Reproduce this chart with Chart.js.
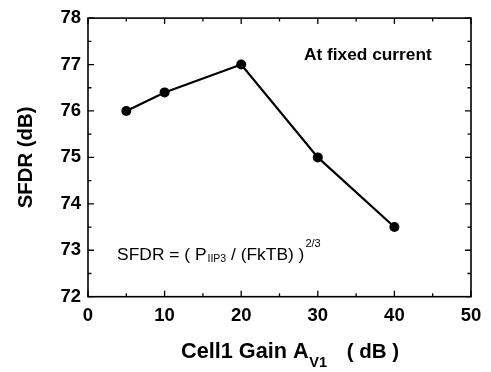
<!DOCTYPE html>
<html>
<head>
<meta charset="utf-8">
<script src="https://cdn.jsdelivr.net/npm/chart.js@4.4.1/dist/chart.umd.min.js"></script>
<style>
html,body{margin:0;padding:0;background:#fff;}
#wrap{width:491px;height:372px;position:relative;}
</style>
</head>
<body>
<div id="wrap"><canvas id="c" width="491" height="372"></canvas></div>
<script>
const gainDb = [5, 10, 20, 30, 40];
const sfdrDb = [76, 76.4, 77, 75, 73.5];
const xMajorTicks = [0, 10, 20, 30, 40, 50];
const xMinorTicks = [5, 15, 25, 35, 45];
const yMajorTicks = [72, 73, 74, 75, 76, 77, 78];
const yMinorTicks = [72.5, 73.5, 74.5, 75.5, 76.5, 77.5];

const FONT = '"Liberation Sans", Arial, Helvetica, sans-serif';

const decor = {
  id: 'decor',
  afterDraw(chart) {
    const ctx = chart.ctx;
    const a = chart.chartArea;
    const xs = chart.scales.x, ys = chart.scales.y;
    ctx.save();
    ctx.strokeStyle = '#000';
    ctx.lineWidth = 1.6;
    ctx.strokeRect(a.left, a.top, a.right - a.left, a.bottom - a.top);
    ctx.lineWidth = 1.3;
    ctx.beginPath();
    const tick = (vals, len) => {
      vals.forEach(v => {
        const px = xs.getPixelForValue(v);
        ctx.moveTo(px, a.bottom); ctx.lineTo(px, a.bottom - len);
        ctx.moveTo(px, a.top); ctx.lineTo(px, a.top + len);
      });
    };
    const ytick = (vals, len) => {
      vals.forEach(v => {
        const py = ys.getPixelForValue(v);
        ctx.moveTo(a.left, py); ctx.lineTo(a.left + len, py);
        ctx.moveTo(a.right, py); ctx.lineTo(a.right - len, py);
      });
    };
    tick(xMajorTicks, 6); tick(xMinorTicks, 3.5);
    ytick(yMajorTicks, 6); ytick(yMinorTicks, 3.5);
    ctx.stroke();

    ctx.fillStyle = '#000';
    // At fixed current
    ctx.font = 'bold 17.3px ' + FONT;
    ctx.textAlign = 'left';
    ctx.textBaseline = 'alphabetic';
    ctx.fillText('At fixed current', xs.getPixelForValue(28.2), ys.getPixelForValue(77.09));

    // formula
    let x = xs.getPixelForValue(3.8);
    const by = ys.getPixelForValue(72.79);
    const seg = (t, f, dy) => { ctx.font = f; ctx.fillText(t, x, by + dy); x += ctx.measureText(t).width; };
    seg('SFDR = ( P', '17.4px ' + FONT, 0);
    x += 1;
    seg('IIP3', '10.5px ' + FONT, 1.5);
    seg(' / (FkTB) )', '17.4px ' + FONT, 0);
    x += 1;
    seg('2/3', '11px ' + FONT, -13.5);

    // x title
    const tb = 358.3;
    ctx.font = 'bold 21.7px ' + FONT;
    ctx.fillText('Cell1 Gain A', 181, tb);
    x = 181 + ctx.measureText('Cell1 Gain A').width + 0.5;
    ctx.font = 'bold 14.5px ' + FONT;
    ctx.fillText('V1', x, tb + 8.5);
    ctx.font = 'bold 20.5px ' + FONT;
    ctx.fillText('( dB )', 346.7, tb);

    // y title
    ctx.save();
    ctx.translate(32, (a.top + a.bottom) / 2);
    ctx.rotate(-Math.PI / 2);
    ctx.textAlign = 'center';
    ctx.font = 'bold 20.4px ' + FONT;
    ctx.fillText('SFDR (dB)', 0, 0);
    ctx.restore();
    ctx.restore();
  }
};

new Chart(document.getElementById('c'), {
  type: 'scatter',
  data: {
    datasets: [{
      data: gainDb.map((g, i) => ({x: g, y: sfdrDb[i]})),
      showLine: true,
      borderColor: '#000',
      backgroundColor: '#000',
      borderWidth: 2.2,
      pointRadius: 5,
      pointHoverRadius: 5,
      pointBorderWidth: 0
    }]
  },
  options: {
    responsive: false,
    animation: false,
    events: [],
    layout: {padding: {top: 13, right: 20, left: 0, bottom: 0}},
    plugins: {legend: {display: false}, tooltip: {enabled: false}},
    scales: {
      x: {
        type: 'linear', min: 0, max: 50,
        afterFit(s) { s.height = 75.3; },
        afterBuildTicks(s) { s.ticks = xMajorTicks.map(v => ({value: v})); },
        grid: {display: false, drawTicks: false},
        border: {display: false},
        ticks: {padding: 8, color: '#000', font: {family: FONT, weight: 'bold', size: 18.5}, maxRotation: 0}
      },
      y: {
        type: 'linear', min: 72, max: 78,
        afterFit(s) { s.width = 88; },
        afterBuildTicks(s) { s.ticks = yMajorTicks.map(v => ({value: v})); },
        grid: {display: false, drawTicks: false},
        border: {display: false},
        ticks: {padding: 7, color: '#000', font: {family: FONT, weight: 'bold', size: 18.5}}
      }
    }
  },
  plugins: [decor]
});
</script>
</body>
</html>
